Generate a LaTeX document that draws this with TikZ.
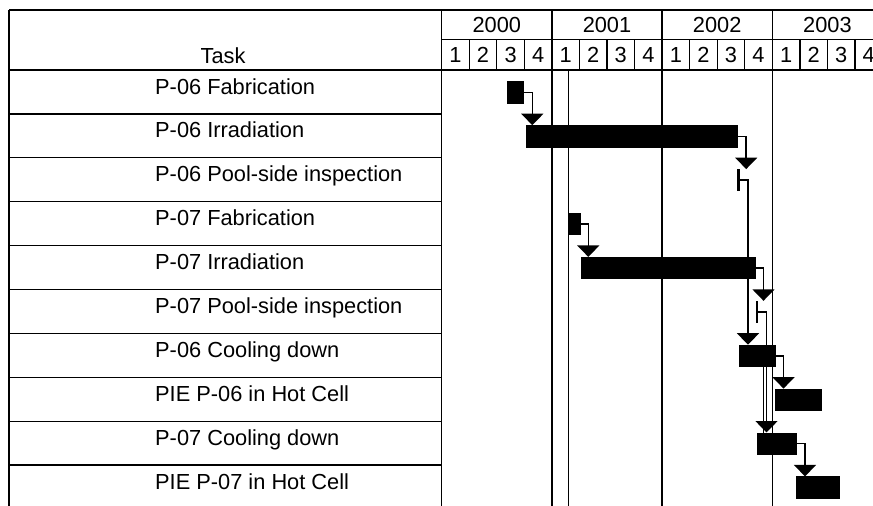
\documentclass[tikz,border=0pt]{standalone}
\usepackage{fontspec}
\setmainfont{Liberation Sans}
\usetikzlibrary{arrows.meta,backgrounds}
\begin{document}
\begin{tikzpicture}[x=1pt,y=-1pt,
  gridline/.style={line width=1.3pt},
  barbox/.style={fill=black,draw=none,inner sep=0pt,outer sep=0pt,anchor=north west,minimum height=22.3pt},
  link/.style={line width=1.6pt,-{Triangle[width=22pt,length=11.5pt]}},
  plainlink/.style={line width=1.6pt},
  lbl/.style={font=\fontsize{21.8}{26}\selectfont,inner sep=0pt},
  tasklbl/.style={lbl,anchor=base west},
]
\useasboundingbox (0,0) rectangle (873,506);
% header and table grid
\draw[gridline] (9,10) -- (873,10);
\draw[gridline] (441.7,39.5) -- (873,39.5);
\draw[gridline] (9,70) -- (873,70);
\draw[gridline] (9,10) -- (9,506);
\draw[gridline] (441.7,10) -- (441.7,506);
\foreach \i in {1,...,15} \draw[gridline] (441.7+27.55*\i,39.5) -- (441.7+27.55*\i,70);
\foreach \i in {1,2,3} \draw[gridline] (441.7+110.2*\i,10) -- (441.7+110.2*\i,70);
\foreach \k in {1,...,9} \draw[gridline] (9,70+43.9*\k) -- (441.7,70+43.9*\k);
% chart vertical lines
\draw[gridline] (551.9,70) -- (551.9,506);
\draw[gridline] (568.3,70) -- (568.3,506);
\draw[gridline] (662.1,70) -- (662.1,506);
\draw[gridline] (772.3,70) -- (772.3,506);
% header labels
\node[lbl,anchor=base] (task) at (223,63) {Task};
\node[lbl] (y2000) at (496.8,24.5) {2000};
\node[lbl] (y2001) at (607.0,24.5) {2001};
\node[lbl] (y2002) at (717.2,24.5) {2002};
\node[lbl] (y2003) at (827.4,24.5) {2003};
\foreach \i [evaluate=\i as \q using {int(mod(\i-1,4)+1)}] in {1,...,16}
  \node[lbl] (q\i) at (441.7+27.55*\i-13.775,55) {\q};
% task labels
\node[tasklbl] (t0) at (155,94) {P-06 Fabrication};
\node[tasklbl] (t1) at (155,137.9) {P-06 Irradiation};
\node[tasklbl] (t2) at (155,181.8) {P-06 Pool-side inspection};
\node[tasklbl] (t3) at (155,225.7) {P-07 Fabrication};
\node[tasklbl] (t4) at (155,269.6) {P-07 Irradiation};
\node[tasklbl] (t5) at (155,313.5) {P-07 Pool-side inspection};
\node[tasklbl] (t6) at (155,357.4) {P-06 Cooling down};
\node[tasklbl] (t7) at (155,401.3) {PIE P-06 in Hot Cell};
\node[tasklbl] (t8) at (155,445.2) {P-07 Cooling down};
\node[tasklbl] (t9) at (155,489.1) {PIE P-07 in Hot Cell};
% bars
\node[barbox,minimum width=17pt] (b0) at (507.3,81.3) {};
\node[barbox,minimum width=212pt] (b1) at (525.7,125.2) {};
\node[barbox,minimum width=2.5pt] (b2) at (737,169.1) {};
\node[barbox,minimum width=13pt] (b3) at (567.7,213) {};
\node[barbox,minimum width=175.3pt] (b4) at (580.7,256.9) {};
\node[barbox,minimum width=2.5pt] (b5) at (755.5,300.8) {};
\node[barbox,minimum width=36.2pt] (b6) at (739.3,344.7) {};
\node[barbox,minimum width=46.7pt] (b7) at (775,388.6) {};
\node[barbox,minimum width=39.7pt] (b8) at (757,432.5) {};
\node[barbox,minimum width=44pt] (b9) at (796,476.4) {};
% links
\coordinate (k0) at ([xshift=8pt]b0.east);
\coordinate (k1) at ([xshift=8.5pt]b1.east);
\coordinate (k2) at ([xshift=8.5pt]b2.east);
\coordinate (k3) at ([xshift=7.6pt]b3.east);
\coordinate (k4) at ([xshift=7.5pt]b4.east);
\coordinate (k5) at ([xshift=8.5pt]b5.east);
\coordinate (k6) at ([xshift=8pt]b6.east);
\coordinate (k8) at ([xshift=8.3pt]b8.east);
\coordinate (k68) at (763.6,0);
\begin{scope}[on background layer]
\draw[link] (b0.east) -- (k0) -- (k0 |- b1.north);
\draw[link] (b1.east) -- (k1) -- (k1 |- b2.north);
\draw[link] (b2.east) -- (k2) -- (k2 |- b6.north);
\draw[link] (b3.east) -- (k3) -- (k3 |- b4.north);
\draw[link] (b4.east) -- (k4) -- (k4 |- b5.north);
\draw[link] (b5.east) -- (k5) -- (k5 |- b8.north);
\draw[link] (b6.east) -- (k6) -- (k6 |- b7.north);
\draw[plainlink] (k68 |- b6.south) -- (k68 |- b8.north);
\draw[link] (b8.east) -- (k8) -- (k8 |- b9.north);
\end{scope}
\end{tikzpicture}
\end{document}
